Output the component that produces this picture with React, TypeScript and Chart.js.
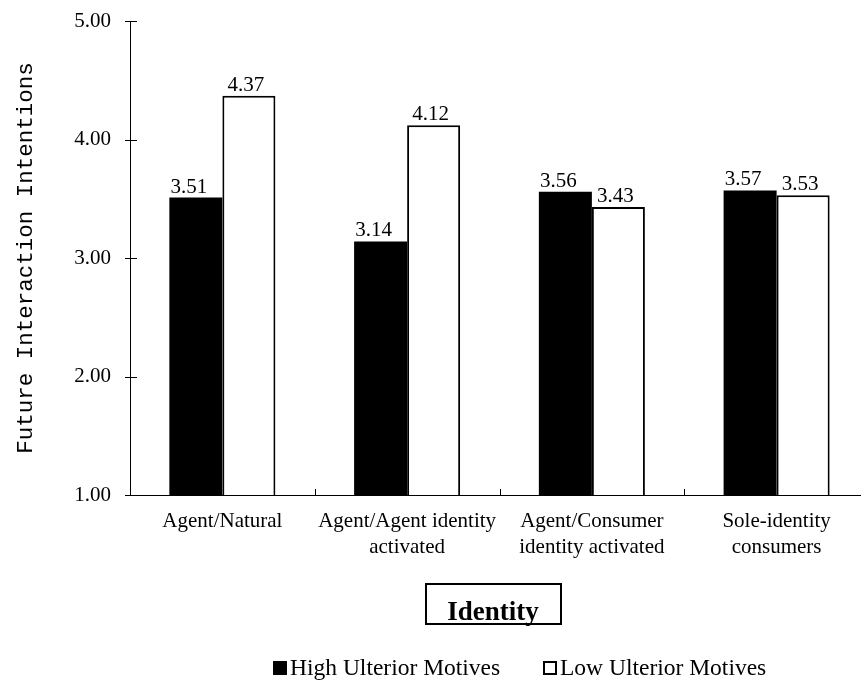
import { useEffect, useRef } from "react";
import { Chart, registerables } from "chart.js";

Chart.register(...registerables);

// ---- data ----
const categories: string[][] = [
  ["Agent/Natural"],
  ["Agent/Agent identity", "activated"],
  ["Agent/Consumer", "identity activated"],
  ["Sole-identity", "consumers"],
];
const highUlterior = [3.51, 3.14, 3.56, 3.57];
const lowUlterior = [4.37, 4.12, 3.43, 3.53];
const seriesNames = ["High Ulterior Motives", "Low Ulterior Motives"];
const yMin = 1;
const yMax = 5;
const yStep = 1;
const yTitle = "Future Interaction Intentions";
const xTitle = "Identity";

// ---- styling ----
const SERIF = '"Liberation Serif", "Times New Roman", serif';
const MONO = '"Liberation Mono", "Courier New", monospace';
const labelShift = [-7, -3];

const decorations = {
  id: "decorations",
  afterDatasetsDraw(chart: any) {
    const ctx = chart.ctx as CanvasRenderingContext2D;
    ctx.save();
    ctx.font = `21px ${SERIF}`;
    ctx.fillStyle = "#000";
    ctx.textAlign = "center";
    ctx.textBaseline = "alphabetic";
    chart.data.datasets.forEach((ds: any, di: number) => {
      const meta = chart.getDatasetMeta(di);
      meta.data.forEach((bar: any, i: number) => {
        const v = Number(ds.data[i]);
        ctx.fillText(v.toFixed(2), bar.x + labelShift[di], bar.y - 5);
      });
    });
    ctx.restore();
  },
  afterDraw(chart: any) {
    const ctx = chart.ctx as CanvasRenderingContext2D;
    const { chartArea, scales } = chart;
    const xs = scales.x;
    const ys = scales.y;
    ctx.save();
    ctx.strokeStyle = "#000";
    ctx.lineWidth = 1;

    // y tick marks crossing the axis line
    ys.ticks.forEach((t: any) => {
      const py = Math.round(ys.getPixelForValue(t.value)) + 0.5;
      ctx.beginPath();
      ctx.moveTo(chartArea.left - 5, py);
      ctx.lineTo(chartArea.left + 7, py);
      ctx.stroke();
    });

    // x tick marks between categories, pointing into the plot
    for (let i = 0; i < categories.length - 1; i++) {
      const px =
        Math.round((xs.getPixelForValue(i) + xs.getPixelForValue(i + 1)) / 2) + 0.5;
      ctx.beginPath();
      ctx.moveTo(px, chartArea.bottom);
      ctx.lineTo(px, chartArea.bottom - 6);
      ctx.stroke();
    }

    // boxed x-axis title
    ctx.lineWidth = 2;
    ctx.strokeRect(chartArea.left + 296, chartArea.bottom + 89, 135, 40);
    ctx.font = `bold 27px ${SERIF}`;
    ctx.fillStyle = "#000";
    ctx.textAlign = "center";
    ctx.textBaseline = "alphabetic";
    ctx.fillText(xTitle, chartArea.left + 363, chartArea.bottom + 125);

    // legend
    const legendX = [273, 543];
    const legendBaseline = 675;
    ctx.font = `23.5px ${SERIF}`;
    ctx.textAlign = "left";
    chart.data.datasets.forEach((ds: any, di: number) => {
      const bx = legendX[di];
      const by = legendBaseline - 14;
      if (ds.backgroundColor === "#000") {
        ctx.fillStyle = "#000";
        ctx.fillRect(bx, by, 14, 14);
      } else {
        ctx.fillStyle = "#fff";
        ctx.fillRect(bx, by, 14, 14);
        ctx.lineWidth = 2;
        ctx.strokeStyle = "#000";
        ctx.strokeRect(bx + 1, by + 1, 12, 12);
      }
      ctx.fillStyle = "#000";
      ctx.fillText(ds.label, bx + 17, legendBaseline);
    });
    ctx.restore();
  },
};

export default function App() {
  const canvasRef = useRef<HTMLCanvasElement>(null);

  useEffect(() => {
    const canvas = canvasRef.current;
    if (!canvas) return;
    const chart = new Chart(canvas, {
      type: "bar",
      data: {
        labels: categories,
        datasets: [
          {
            label: seriesNames[0],
            data: highUlterior,
            backgroundColor: "#000",
            borderColor: "#000",
            borderWidth: 0,
          },
          {
            label: seriesNames[1],
            data: lowUlterior,
            backgroundColor: "#fff",
            borderColor: "#000",
            borderWidth: 2,
            borderSkipped: false,
          },
        ],
      },
      options: {
        responsive: false,
        animation: false,
        events: [],
        layout: { padding: { top: 21, right: 11, left: 0, bottom: 0 } },
        datasets: {
          bar: { categoryPercentage: 0.574, barPercentage: 1.0 },
        },
        plugins: {
          legend: { display: false },
          tooltip: { enabled: false },
        },
        scales: {
          x: {
            grid: { display: false, drawTicks: false },
            border: { display: true, color: "#000", width: 1 },
            ticks: {
              color: "#000",
              font: { family: SERIF, size: 21, lineHeight: 1.25 },
              padding: 13,
              maxRotation: 0,
              autoSkip: false,
            },
            afterFit: (scale: any) => {
              scale.height = 188;
            },
          },
          y: {
            min: yMin,
            max: yMax,
            grid: { display: false, drawTicks: false },
            border: { display: true, color: "#000", width: 1 },
            ticks: {
              stepSize: yStep,
              color: "#000",
              font: { family: SERIF, size: 21 },
              padding: 19,
              callback: (v: any) => Number(v).toFixed(2),
            },
            title: {
              display: true,
              text: yTitle,
              color: "#000",
              font: { family: MONO, size: 22.5, lineHeight: 1.2 },
              padding: { top: 12.5, bottom: 0 },
            },
            afterFit: (scale: any) => {
              scale.width = 130;
              scale.paddingTop = 0;
              scale.paddingBottom = 0;
            },
          },
        },
      },
      plugins: [decorations],
    });
    return () => chart.destroy();
  }, []);

  return (
    <div
      style={{
        position: "fixed",
        left: 0,
        top: 0,
        width: 861,
        height: 683,
        overflow: "hidden",
        background: "#fff",
      }}
    >
      <canvas ref={canvasRef} width={880} height={683} style={{ display: "block" }} />
    </div>
  );
}
